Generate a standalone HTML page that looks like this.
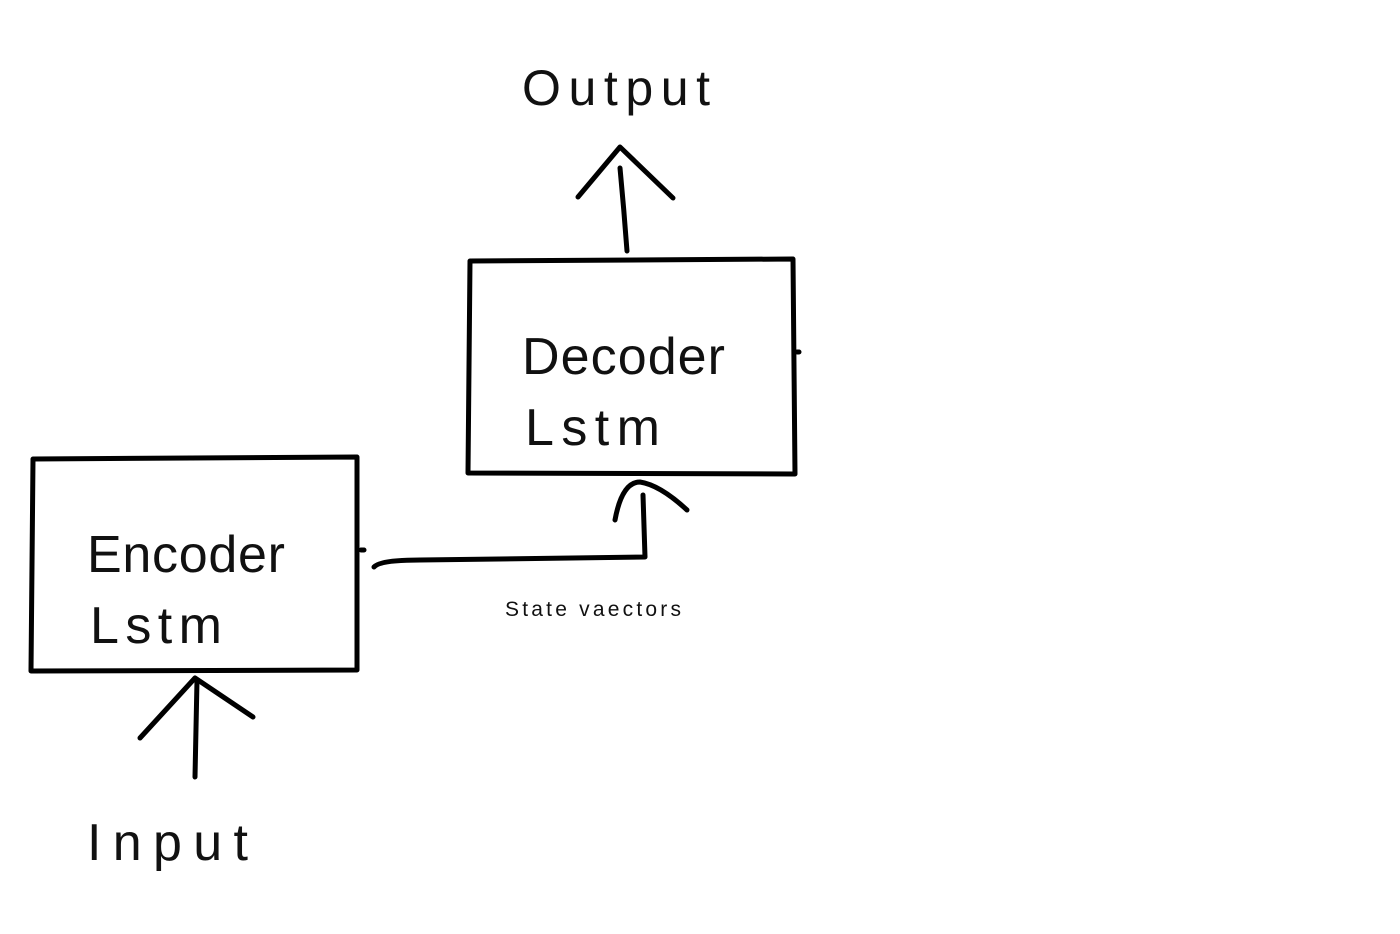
<!DOCTYPE html>
<html><head><meta charset="utf-8"><style>
html,body{margin:0;padding:0;background:#fff;}
svg{display:block}
text{font-family:"Liberation Sans",sans-serif;fill:#111;}
</style></head><body>
<svg width="1400" height="934" viewBox="0 0 1400 934" xmlns="http://www.w3.org/2000/svg">
<g fill="none" stroke="#000" stroke-width="5" stroke-linecap="round" stroke-linejoin="round">
<path d="M33 459 L357 457 L357 670 L31 671 L33 459"/>
<path d="M470 261 L793 259 L795 474 L468 473 L470 261"/>
<path d="M361 550 L364 550"/>
<path d="M797 352 L799 352"/>
<path d="M627 251 Q624 210 620 168"/>
<path d="M578 197 L620 147 L673 198"/>
<path d="M374 567 Q380 560 420 560 L645 557 L643 495"/>
<path d="M615 520 Q622 482 640 482 Q660 485 687 510"/>
<path d="M195 777 L197 680"/>
<path d="M140 738 L195 678 L253 717"/>
</g>
<text x="522" y="105" font-size="50" textLength="188" lengthAdjust="spacing">Output</text>
<text x="522" y="374" font-size="52" textLength="203" lengthAdjust="spacing">Decoder</text>
<text x="525" y="445" font-size="52" textLength="135" lengthAdjust="spacing">Lstm</text>
<text x="87" y="572" font-size="52" textLength="198" lengthAdjust="spacing">Encoder</text>
<text x="90" y="643" font-size="52" textLength="132" lengthAdjust="spacing">Lstm</text>
<text x="505" y="616" font-size="21" textLength="176" lengthAdjust="spacing">State vaectors</text>
<text x="87" y="860" font-size="52" textLength="161" lengthAdjust="spacing">Input</text>
</svg>
</body></html>
